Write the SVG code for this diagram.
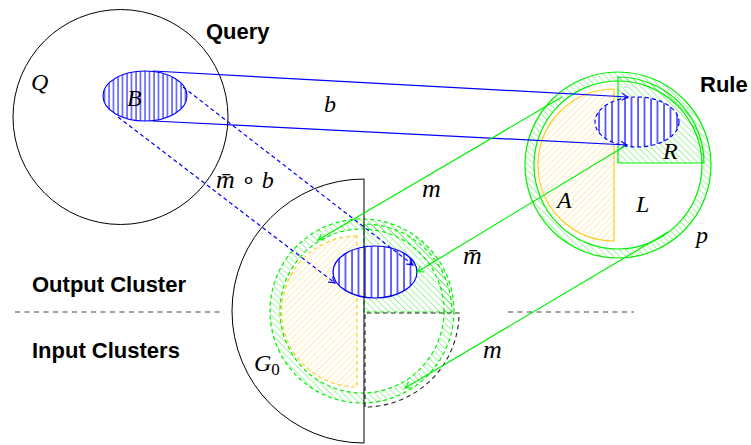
<svg xmlns="http://www.w3.org/2000/svg" width="751" height="445" viewBox="0 0 751 445">
<style>
.lbl{font-family:"Liberation Sans",Arial,sans-serif;font-weight:bold;font-size:22px;fill:#000}
.math{font-family:"Liberation Serif","Times New Roman",serif;font-style:italic;font-size:24px;fill:#000}
.mm{font-size:26px}
.up{font-style:normal}
.blk{fill:none;stroke:#000;stroke-width:1}
.bdash{fill:none;stroke:#222;stroke-width:1.1;stroke-dasharray:4.5 3.5}
.grn{stroke:#00f000;stroke-width:1.2}
.yel{stroke:#ffcc22;stroke-width:1.2}
.blu{stroke:#0000ff;stroke-width:1.2}
.dash{stroke-dasharray:4 3}
.sep{fill:none;stroke:#444;stroke-width:1.2;stroke-dasharray:5 4.5}
</style>
<defs>
<pattern id="hg" width="4.5" height="4.5" patternUnits="userSpaceOnUse" patternTransform="rotate(-45)"><line x1="0" y1="-1" x2="0" y2="6" stroke="#00e000" stroke-width="0.7"/></pattern>
<pattern id="hy" width="4.5" height="4.5" patternUnits="userSpaceOnUse" patternTransform="rotate(45)"><line x1="0" y1="-1" x2="0" y2="6" stroke="#ffcc33" stroke-width="0.7"/></pattern>
<pattern id="hbB" width="4.5" height="10" patternUnits="userSpaceOnUse"><line x1="1" y1="-1" x2="1" y2="11" stroke="#0000ff" stroke-width="1"/></pattern>
<pattern id="hb" width="6.5" height="10" patternUnits="userSpaceOnUse"><line x1="1" y1="-1" x2="1" y2="11" stroke="#0000ff" stroke-width="1.2"/></pattern>
<marker id="ab" markerWidth="10" markerHeight="10" refX="0" refY="0" viewBox="-8 -5 10 10" orient="auto" markerUnits="userSpaceOnUse"><path d="M-6,-3.5 Q-2,-0.6 0,0 Q-2,0.6 -6,3.5" fill="none" stroke="#0000ff" stroke-width="1.1"/></marker>
<marker id="ag" markerWidth="10" markerHeight="10" refX="0" refY="0" viewBox="-8 -5 10 10" orient="auto" markerUnits="userSpaceOnUse"><path d="M-6,-3.5 Q-2,-0.6 0,0 Q-2,0.6 -6,3.5" fill="none" stroke="#00f000" stroke-width="1.1"/></marker>
</defs>
<rect width="751" height="445" fill="#fff"/>

<g id="separator">
<path class="sep" d="M15,312 H222"/>
<path class="sep" d="M508,312 H634"/>
</g>

<g id="query">
<circle class="blk" cx="120.5" cy="117" r="107.5"/>
<ellipse cx="145" cy="96" rx="42" ry="25" fill="url(#hbB)" stroke="#0000ff" stroke-width="1.1"/>
<text class="math" x="31" y="90">Q</text>
<text class="math" x="127" y="106">B</text>
</g>

<g id="rule">
<path d="M525,165 a93,93 0 1,0 186,0 a93,93 0 1,0 -186,0 Z M534,165 a84,84 0 1,0 168,0 a84,84 0 1,0 -168,0 Z" fill="url(#hg)" fill-rule="evenodd" stroke="none"/>
<circle cx="618" cy="165" r="93" fill="none" class="grn" stroke-width="1.6"/>
<circle cx="618" cy="165" r="84" fill="none" class="grn"/>
<path d="M618,163 L618,77 A86,86 0 0,1 704,163 Z" fill="url(#hg)" class="grn"/>
<path d="M614,89 A76,76 0 0,0 614,241 Z" fill="url(#hy)" class="yel"/>
<ellipse cx="637" cy="122" rx="42" ry="25" fill="#fff"/>
<ellipse cx="637" cy="122" rx="42" ry="25" fill="url(#hb)" class="blu dash"/>
<text class="math" x="663" y="159">R</text>
<text class="math" x="557" y="208">A</text>
<text class="math" x="636" y="212">L</text>
<text class="math" x="696" y="243">p</text>
</g>

<g id="output-cluster">
<path d="M270,311 a92,92 0 1,0 184,0 a92,92 0 1,0 -184,0 Z M280,311 a82,82 0 1,0 164,0 a82,82 0 1,0 -164,0 Z" fill="url(#hg)" fill-rule="evenodd" stroke="none"/>
<circle cx="362" cy="311" r="92" fill="none" class="grn dash"/>
<circle cx="362" cy="311" r="82" fill="none" class="grn dash"/>
<path d="M364,312 L364,224 A88,88 0 0,1 452,312 Z" fill="url(#hg)" class="grn dash"/>
<path d="M357,236 A75.5,75.5 0 0,0 357,387 Z" fill="url(#hy)" class="yel dash"/>
<ellipse cx="375" cy="272" rx="42" ry="26" fill="#fff"/>
<ellipse cx="375" cy="272" rx="42" ry="26" fill="url(#hb)" class="blu"/>
</g>

<g id="input-cluster">
<path class="bdash" d="M365,407 L365,313 L459,313 A94,94 0 0,1 365,407"/>
<path class="blk" d="M364,179 A132,132 0 0,0 364,443 Z"/>
<text class="math" x="254" y="371">G<tspan class="up" font-size="17" dy="4">0</tspan></text>
</g>

<g id="connectors">
<path d="M153,71 L628,97" class="blu" fill="none" marker-end="url(#ab)"/>
<path d="M153,121 L627,145" class="blu" fill="none" marker-end="url(#ab)"/>
<path d="M118,117 L335,283" class="blu dash" fill="none" marker-end="url(#ab)"/>
<path d="M183,87 L413,265" class="blu dash" fill="none" marker-end="url(#ab)"/>
<path d="M562,97 L318,240" class="grn" fill="none" marker-end="url(#ag)"/>
<path d="M625,146 L417,272" class="grn" fill="none" marker-end="url(#ag)"/>
<path d="M668,232 L405,388" class="grn" fill="none" marker-end="url(#ag)"/>
</g>

<g id="labels">
<text class="lbl" x="206" y="39">Query</text>
<text class="lbl" x="700" y="92">Rule</text>
<text class="lbl" x="32" y="292">Output Cluster</text>
<text class="lbl" x="32" y="358">Input Clusters</text>
<text class="math" x="324" y="112">b</text>
<text class="math" x="216" y="188"><tspan class="mm">m̄</tspan> <tspan class="up">∘</tspan> b</text>
<text class="math mm" x="422" y="197">m</text>
<text class="math mm" x="463" y="264">m̄</text>
<text class="math mm" x="483" y="358">m</text>
</g>
</svg>
